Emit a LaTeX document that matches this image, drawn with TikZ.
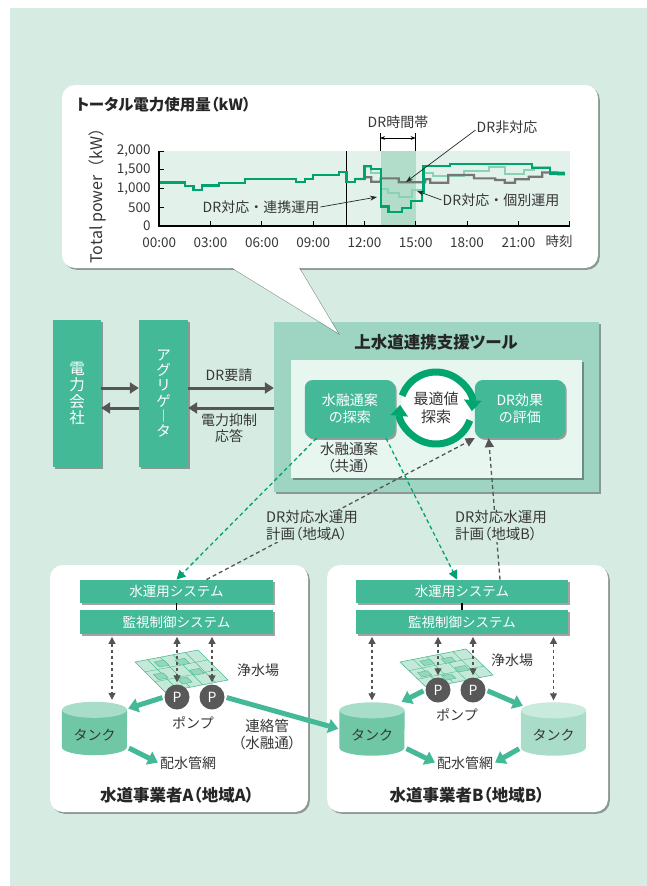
\documentclass[tikz,border=0pt]{standalone}
\usepackage{fontspec}
\setmainfont{Noto Sans CJK JP}
\newfontfamily\paltfont{Noto Sans CJK JP}[RawFeature=+palt]
\usetikzlibrary{arrows.meta,shadows}

\definecolor{bgmint}{RGB}{214,236,227}
\definecolor{boxgreen}{RGB}{67,185,152}
\definecolor{toolgreen}{RGB}{157,213,194}
\definecolor{palegreen}{RGB}{232,246,240}
\definecolor{plotbg}{RGB}{226,242,235}
\definecolor{drband}{RGB}{178,221,202}
\definecolor{linedark}{RGB}{0,163,112}
\definecolor{linelight}{RGB}{138,210,180}
\definecolor{linegray}{RGB}{118,118,118}
\definecolor{darktext}{RGB}{55,55,55}
\definecolor{arrowgray}{RGB}{85,85,85}
\definecolor{ringgreen}{RGB}{0,165,112}
\definecolor{pumpgray}{RGB}{88,88,88}
\definecolor{tankbody}{RGB}{112,199,166}
\definecolor{tanktop}{RGB}{168,222,201}
\definecolor{tankbodylight}{RGB}{170,221,201}
\definecolor{tanktoplight}{RGB}{200,235,221}
\definecolor{plantfill}{RGB}{196,233,217}
\definecolor{plantline}{RGB}{78,188,148}
\definecolor{plantblock}{RGB}{150,214,189}

\tikzset{
  shade box/.style={drop shadow={shadow xshift=1.8pt, shadow yshift=-1.8pt, opacity=0.45, fill=black!80}},
  greenbox/.style={fill=boxgreen, text=white, inner sep=0pt, align=center, shade box},
  sysbox/.style={greenbox, minimum height=23.5pt, font=\fontsize{13.5}{15}\selectfont},
  txt/.style={text=darktext, align=center, inner sep=1pt, font=\fontsize{14}{16.5}\selectfont},
  ptxt/.style={txt, font=\paltfont\fontsize{14.5}{17}\selectfont},
  title/.style={text=black!85, inner sep=1pt, font=\paltfont\fontsize{16.5}{18}\selectfont\bfseries},
  ticklabel/.style={text=darktext, inner sep=0pt, font=\fontsize{13.5}{15}\selectfont},
  panel/.style={fill=white, rounded corners=13pt, shade box},
  bigarrow/.style={arrowgray, line width=3pt, -{Triangle[length=9pt,width=11pt]}},
  flow/.style={boxgreen, line width=5pt, -{Triangle[length=10pt,width=14pt]}, shorten <=2pt, shorten >=1pt},
  link/.style={arrowgray, line width=1.2pt, dash pattern=on 3.5pt off 2.5pt,
    {Triangle[length=7pt,width=7pt]}-{Triangle[length=7pt,width=7pt]}, shorten <=3pt, shorten >=2pt},
  plan/.style={linedark, line width=1.3pt, dash pattern=on 4pt off 3pt, -{Triangle[length=9pt,width=9pt]}},
  report/.style={arrowgray, line width=1.3pt, dash pattern=on 4pt off 3pt, -{Triangle[length=9pt,width=9pt]}},
  pointer/.style={black!85, line width=0.7pt, -{Stealth[length=7pt,width=5pt]}},
  pump/.style={circle, fill=pumpgray, text=white, minimum size=25pt, inner sep=0pt, font=\fontsize{14}{14}\selectfont},
  tankspot/.style={minimum width=65pt, minimum height=53pt, inner sep=0pt},
  ring/.style={ringgreen, line width=7pt, -{Triangle[length=11pt,width=17pt]}},
  pics/plant/.style={code={
    \fill[plantfill] (0,0) -- (1,0) -- (1,1) -- (0,1) -- cycle;
    \foreach \s in {0.2,0.4,0.6,0.8}
      \draw[plantline, line width=0.4pt] (\s,0) -- (\s,1);
    \foreach \s in {0.33,0.66}
      \draw[plantline, line width=0.4pt] (0,\s) -- (1,\s);
    \foreach \a/\b in {0.26/0.1, 0.56/0.16, 0.08/0.45, 0.62/0.52, 0.34/0.7}
      \filldraw[fill=plantblock, draw=plantline, line width=0.4pt]
        (\a,\b) -- ++(0.15,0) -- ++(0,0.17) -- ++(-0.15,0) -- cycle;
    \draw[plantline, line width=0.6pt] (0,0) -- (1,0) -- (1,1) -- (0,1) -- cycle;
  }},
}

% cylinder drawn round an empty node: node, body colour, lid colour
\newcommand{\tankshape}[3]{%
  \fill[#2] ([yshift=-8pt]#1.north west) -- ([yshift=8pt]#1.south west)
    arc[start angle=180, end angle=360, x radius=32.5pt, y radius=8pt]
    -- ([yshift=-8pt]#1.north east) -- cycle;
  \fill[#3] ([yshift=-8pt]#1.north) ellipse [x radius=32.5pt, y radius=8pt];
}

\begin{document}
\begin{tikzpicture}[x=1pt, y=-1pt]
  \useasboundingbox (0,0) rectangle (647,886);
  \fill[bgmint] (10,8) rectangle (647,886);

  % power company, aggregator and the support tool
  \node[greenbox, minimum width=48pt, minimum height=147pt, font=\fontsize{15.5}{16.5}\selectfont]
    (power) at (77,393.5) {電\\力\\会\\社};
  \node[greenbox, minimum width=49pt, minimum height=147pt, font=\fontsize{14.5}{15.3}\selectfont]
    (aggr) at (163.5,393.5) {ア\\グ\\リ\\ゲ\\︱\\タ};
  \node[fill=toolgreen, minimum width=325pt, minimum height=170pt, shade box] (tool) at (436.5,407) {};
  \node[title] (tooltitle) at (436,342) {上水道連携支援ツール};
  \node[fill=palegreen, minimum width=291pt, minimum height=118pt, shade box] (inner) at (436.5,419) {};
  \node[greenbox, rounded corners=8pt, minimum width=90pt, minimum height=58pt, font=\fontsize{14}{17}\selectfont]
    (search) at (349.75,409) {水融通案\\の探索};
  \node[greenbox, rounded corners=8pt, minimum width=90pt, minimum height=58pt, font=\fontsize{14}{17}\selectfont]
    (eval) at (519.85,409) {DR効果\\の評価};
  \node[circle, fill=white, minimum size=70pt, inner sep=0pt, text=darktext, align=center,
    font=\fontsize{15}{18}\selectfont] (optim) at (436,408) {最適値\\探索};
  \draw[ring] ([shift={(160:36pt)}]optim.center) arc[start angle=160, end angle=-5, radius=36pt];
  \draw[ring] ([shift={(-20:36pt)}]optim.center) arc[start angle=-20, end angle=-185, radius=36pt];
  \node[ptxt] (common) at (349,458) {水融通案\\（共通）};

  \coordinate (r1) at ([yshift=5.5pt]power.east);
  \coordinate (r2) at ([yshift=-14.5pt]power.east);
  \coordinate (r3) at ([yshift=5.5pt]aggr.east);
  \coordinate (r4) at ([yshift=-14.5pt]aggr.east);
  \draw[bigarrow] (r1) -- (r1 -| aggr.west);
  \draw[bigarrow] (r2 -| aggr.west) -- (r2);
  \draw[bigarrow] (r3) -- (r3 -| tool.west);
  \draw[bigarrow] (r4 -| tool.west) -- (r4);
  \node[txt] (req) at (229,375) {DR要請};
  \node[txt] (resp) at (229,428) {電力抑制\\応答};

  % utilities
  \path[panel] (50,565) rectangle (308,812);
  \path[panel] (327,565) rectangle (608,812);

  \node[sysbox, minimum width=193pt] (opsA) at (176.5,591.5) {水運用システム};
  \node[sysbox, minimum width=193pt] (scadaA) at (176.5,622) {監視制御システム};
  \node[sysbox, minimum width=212pt] (opsB) at (462,591.5) {水運用システム};
  \node[sysbox, minimum width=212pt] (scadaB) at (462,622) {監視制御システム};
  \draw[line width=1.2pt] (opsA.south) -- (scadaA.north);
  \draw[line width=1.2pt] (opsB.south) -- (scadaB.north);

  \begin{scope}[shift={(135,662)}, x={(63pt,12pt)}, y={(30pt,-30pt)}]
    \pic (plantA) {plant};
  \end{scope}
  \begin{scope}[shift={(400,662)}, x={(66pt,13pt)}, y={(27pt,-26pt)}]
    \pic (plantB) {plant};
  \end{scope}

  \node[pump] (pA1) at (177,697) {P};
  \node[pump] (pA2) at (212,697) {P};
  \node[pump] (pB1) at (438,690) {P};
  \node[pump] (pB2) at (473,690) {P};

  \node[tankspot] (tankA) at (94.5,728.5) {};
  \node[tankspot] (tankB1) at (372,729) {};
  \node[tankspot] (tankB2) at (553.5,729) {};
  \tankshape{tankA}{tankbody}{tanktop}
  \tankshape{tankB1}{tankbody}{tanktop}
  \tankshape{tankB2}{tankbodylight}{tanktoplight}
  \node[txt] (tankAtxt) at ([yshift=-6.5pt]tankA.center) {タンク};
  \node[txt] (tankB1txt) at ([yshift=-6.5pt]tankB1.center) {タンク};
  \node[txt] (tankB2txt) at ([yshift=-6.5pt]tankB2.center) {タンク};

  \coordinate (mA) at (112,650);
  \draw[link] (scadaA.south -| mA) -- (tankA.north -| mA);
  \draw[link] (scadaA.south -| pA1) -- (pA1.north);
  \draw[link] (scadaA.south -| pA2) -- (pA2.north);
  \draw[link] (scadaB.south -| tankB1) -- (tankB1.north);
  \draw[link] (scadaB.south -| pB1) -- (pB1.north);
  \draw[link] (scadaB.south -| pB2) -- (pB2.north);
  \draw[link] (scadaB.south -| tankB2) -- (tankB2.north);

  \node[txt] (plantAlbl) at (258,670) {浄水場};
  \node[txt] (plantBlbl) at (512,660) {浄水場};
  \node[txt] (pumpAlbl) at (193,723) {ポンプ};
  \node[txt] (pumpBlbl) at (457,715) {ポンプ};
  \node[txt] (netA) at (188,763) {配水管網};
  \node[txt] (netB) at (465,763) {配水管網};
  \node[ptxt] (pipe) at (267,735) {連絡管\\（水融通）};

  \draw[flow] (pA1.west) -- ([yshift=-7pt]tankA.north east);
  \draw[flow] ([yshift=8pt]tankA.south east) -- (netA.west);
  \draw[flow] (pA2.east) -- (tankB1.west);
  \draw[flow] (pB1.west) -- ([xshift=-4pt]tankB1.north east);
  \draw[flow] (pB2.east) -- ([xshift=3pt, yshift=-4pt]tankB2.north west);
  \draw[flow] ([yshift=8pt]tankB1.south east) -- (netB.west);
  \draw[flow] ([yshift=8pt]tankB2.south west) -- (netB.east);

  \node[title] (utilA) at (177,795) {水道事業者A（地域A）};
  \node[title] (utilB) at (467,795) {水道事業者B（地域B）};

  % plans down, results up
  \draw[plan] ([xshift=12pt]search.south west) -- (opsA.north);
  \draw[plan] ([xshift=-9pt]search.south east) -- ([xshift=-5pt]opsB.north);
  \draw[report] ([xshift=30pt]opsA.north) -- (eval.south west);
  \draw[report] ([xshift=38pt]opsB.north) -- ([xshift=14pt]eval.south west);
  \node[ptxt, fill=bgmint, align=left] (planA) at (312,526) {DR対応水運用\\計画（地域A）};
  \node[ptxt, fill=bgmint, align=left] (planB) at (501,526) {DR対応水運用\\計画（地域B）};

  % load curve panel
  \path[panel] (62,85) rectangle (598,268);
  \path[fill=white, shade box] (229,266) -- (338,333) -- (298,266) -- cycle;
  \node[title, anchor=west, font=\paltfont\fontsize{15.5}{18}\selectfont\bfseries] (chartttl) at (75,105) {トータル電力使用量（kW）};
  \node[ticklabel, rotate=90, font=\fontsize{16}{18}\selectfont] (ylab) at (97,192) {Total power（kW）};

  \begin{scope}[xshift=159.3pt, yshift=-226pt, x=17.1pt, y=0.0375pt]
    \fill[plotbg] (0,0) rectangle (24,2000);
    \fill[drband] (12.95,0) rectangle (15,2000);
    \draw[line width=1.3pt] (10.95,0) -- (10.95,2000);
    \draw[linelight, line width=2pt] (11.45,1253) -| (12,1580) -| (12.4,1400) -| (12.95,980)
      -| (13.4,870) -| (14,780) -| (14.75,960) -| (15.4,1400) -| (16,1320) -| (17.8,1470)
      -| (19.3,1560) -| (20.2,1380) -| (21.3,1500) -| (21.9,1580) -| (22.85,1440)
      -| (23.3,1360) -- (23.7,1360);
    \draw[linegray, line width=2.2pt] (11.45,1253) -| (12,1300) -| (12.4,1180) -| (12.95,1270)
      -| (14,1165) -| (15.55,1245) -| (15.85,1155) -| (16.9,1360) -| (18.4,1270)
      -| (19.65,1225) -| (20.2,1155) -| (20.8,1245) -| (21.6,1315) -| (22.4,1430) -- (23.7,1420);
    \draw[linedark, line width=2.2pt] (0,1160) -| (1.5,1060) -| (2,970) -| (2.5,1080) -| (3.5,1150)
      -| (5,1260) -| (8,1170) -| (8.5,1260) -| (9,1350) -| (10.5,1450) -| (10.95,1180)
      -| (11.45,1260) -| (12,1610) -| (12.4,1510) -| (12.95,520) -| (13.4,380) -| (14.2,470)
      -| (14.7,670) -| (15.35,910) -| (15.45,1600) -| (17,1650) -| (21.8,1540) -| (22.85,1400)
      -- (23.7,1400);
    \draw[line width=1.8pt] (0,2000) -- (0,0) -- (24,0);
    \foreach \h in {3,6,...,24}
      \draw[line width=0.9pt] (\h,0) -- ++(0pt,5pt);
    \foreach \v in {500,1000,1500,2000}
      \draw[line width=0.9pt] (0,\v) -- ++(5pt,0pt);
    \foreach \h/\t in {0/00:00,3/03:00,6/06:00,9/09:00,12/12:00,15/15:00,18/18:00,21/21:00}
      \node[ticklabel] (x\h) at (\h,-450) {\t};
    \foreach \v/\t in {0/0,500/500,1000/{1,000},1500/{1,500},2000/{2,000}}
      \node[ticklabel, anchor=east] (y\v) at (-0.5,\v) {\t};
  \end{scope}
  \node[ticklabel] (clock) at (559,241) {時刻};

  \draw[line width=0.8pt] (380,133) -- (380,151);
  \draw[line width=0.8pt] (415.7,133) -- (415.7,151);
  \draw[line width=0.8pt, {Stealth[length=5pt]}-{Stealth[length=5pt]}] (380,138) -- (415.7,138);
  \node[txt] (drtime) at (398,122) {DR時間帯};

  \node[txt] (nonDR) at (507,127) {DR非対応};
  \node[txt] (coop) at (261,207) {DR対応・連携運用};
  \node[txt] (indiv) at (501,200) {DR対応・個別運用};
  \coordinate (grayTip) at (406,182);
  \coordinate (coopTip) at (377,197);
  \coordinate (indivTip) at (417,191);
  \draw[pointer] ([yshift=-3pt]nonDR.west) -- (grayTip);
  \draw[pointer] (coop.east) -- (coopTip);
  \draw[pointer] (indiv.west) -- (indivTip);
\end{tikzpicture}
\end{document}
